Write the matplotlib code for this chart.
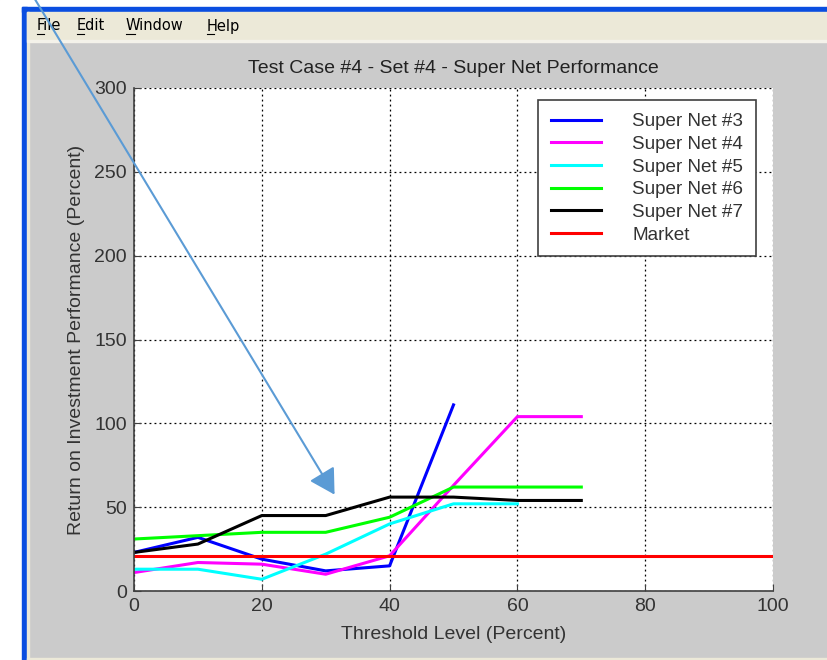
import numpy as np
import matplotlib.pyplot as plt
from matplotlib.patches import Rectangle, FancyArrowPatch
from matplotlib.lines import Line2D

plt.rcParams['font.family'] = ['Liberation Sans', 'DejaVu Sans']

# data
thresh = [0, 10, 20, 30, 40, 50, 60, 70]
net3 = [23, 32, 19, 12, 15, 111]
net4 = [11, 17, 16, 10, 21, 63, 104, 104]
net5 = [13, 13, 7, 22, 40, 52, 52]
net6 = [31, 33, 35, 35, 44, 62, 62, 62]
net7 = [23, 28, 45, 45, 56, 56, 54, 54]
market_x = [0, 100]
market = [21, 21]

labels = ['Super Net #3', 'Super Net #4', 'Super Net #5', 'Super Net #6',
          'Super Net #7', 'Market']
colors = ['#0000ff', '#ff00ff', '#00ffff', '#00ff00', '#000000', '#ff0000']

W, H = 827, 660
fig = plt.figure(figsize=(W / 100, H / 100), dpi=100, facecolor='#cbcbcb')

# window chrome (screenshot look)
def box(x0, y0, x1, y1, c):
    # pixel coords, top-left origin
    fig.patches.append(Rectangle((x0 / W, 1 - y1 / H), (x1 - x0) / W, (y1 - y0) / H,
                                 transform=fig.transFigure, color=c, zorder=0))

box(0, 0, W, 7, 'white')
box(0, 0, 22, H, 'white')
box(22, 7, W, 12, '#0a4ee0')
box(22, 7, 27, H, '#0a4ee0')
box(27, 12, 29, H, '#ece9d8')
box(27, 12, W, 40, '#ece9d8')
box(27, 40, W, 42, '#f4f2ea')
box(27, 658, W, H, '#ece9d8')

menu = [('File', 37), ('Edit', 77), ('Window', 126), ('Help', 207)]
for name, mx in menu:
    fig.text(mx / W, 1 - 26 / H, name, fontsize=10.5, color='black',
             va='center', ha='left', family='DejaVu Sans')
    uw = 9 if name[0] == 'W' else 7
    fig.add_artist(Line2D([mx / W, (mx + uw) / W], [1 - 34 / H, 1 - 34 / H],
                          transform=fig.transFigure, color='black', lw=0.8))

ax = fig.add_axes([134 / W, 1 - 591 / H, (773 - 134) / W, (591 - 88) / H])
ax.set_facecolor('white')

series = [(thresh[:len(net3)], net3), (thresh, net4), (thresh[:len(net5)], net5),
          (thresh, net6), (thresh, net7), (market_x, market)]
for (xs, ys), lab, c in zip(series, labels, colors):
    ax.plot(xs, ys, color=c, lw=2.2, label=lab)

ax.set_xlim(0, 100)
ax.set_ylim(0, 300)
ax.set_xticks(np.arange(0, 101, 20))
ax.set_yticks(np.arange(0, 301, 50))
ax.grid(True, color='black', linestyle=(0, (1.5, 2.5)), linewidth=0.9)
ax.set_axisbelow(True)
for s in ['top', 'right']:
    ax.spines[s].set_visible(False)
for s in ['left', 'bottom']:
    ax.spines[s].set_color('#404040')
    ax.spines[s].set_linewidth(1.2)
ax.tick_params(direction='in', length=5, colors='#404040', labelsize=14,
               labelcolor='#333333', pad=5)

ax.set_title('Test Case #4 - Set #4 - Super Net Performance', fontsize=14,
             color='#222222', pad=11)
ax.set_xlabel('Threshold Level (Percent)', fontsize=14, color='#333333', labelpad=8)
ax.set_ylabel('Return on Investment Performance (Percent)', fontsize=14,
              color='#333333', labelpad=7)

leg = ax.legend(loc='upper right', bbox_to_anchor=(0.9734, 0.976), fontsize=13.6,
                frameon=True, fancybox=False, edgecolor='#404040', framealpha=1,
                handlelength=2.65, handletextpad=1.65, labelspacing=0.29,
                borderpad=0.68, borderaxespad=0)
leg.get_frame().set_linewidth(1.2)
for t in leg.get_texts():
    t.set_color('#333333')

# annotation arrow drawn over the screenshot
arr = FancyArrowPatch((33 / W, 1 - (-4) / H), (336 / W, 1 - 497 / H),
                      transform=fig.transFigure, arrowstyle='-|>,head_length=7,head_width=4',
                      color='#5b9bd5', lw=1.5, mutation_scale=2.2, zorder=10)
fig.add_artist(arr)

fig.savefig('out.png', dpi=100, facecolor=fig.get_facecolor())
